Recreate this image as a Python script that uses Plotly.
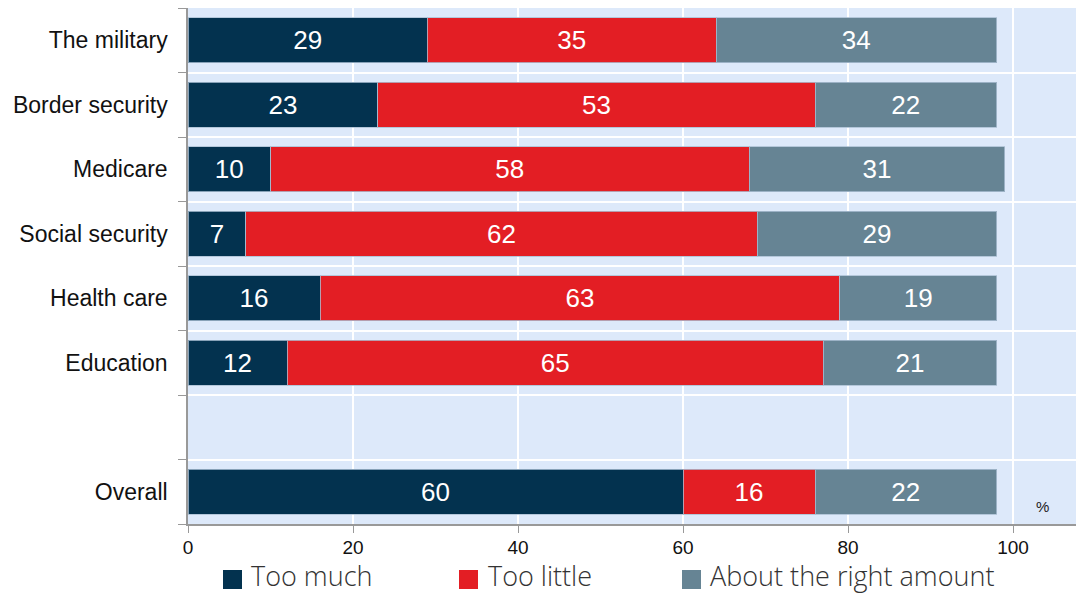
import plotly.graph_objects as go

categories = ["The military", "Border security", "Medicare", "Social security",
              "Health care", "Education", " ", "Overall"]
too_much = [29, 23, 10, 7, 16, 12, None, 60]
too_little = [35, 53, 58, 62, 63, 65, None, 16]
right_amount = [34, 22, 31, 29, 19, 21, None, 22]
series_names = ["Too much", "Too little", "About the right amount"]
colors = ["#03324f", "#e31e24", "#668494"]
x_ticks = [0, 20, 40, 60, 80, 100]

# page geometry (page has 8px body margin; figure is 1076x586)
PLOT_L, PLOT_R, PLOT_T, PLOT_B = 188, 1084, 8, 524


def px_x(p):
    return (p - PLOT_L) / (PLOT_R - PLOT_L)


def px_y(p):
    return (PLOT_B - p) / (PLOT_B - PLOT_T)


fig = go.Figure()
for name, vals, col in zip(series_names, [too_much, too_little, right_amount], colors):
    fig.add_trace(go.Bar(
        y=categories, x=vals, orientation="h", name=name,
        marker=dict(color=col, line=dict(color="rgba(170,190,210,0.8)", width=1)),
        text=[("" if v is None else str(v)) for v in vals],
        textposition="inside", insidetextanchor="middle",
        textfont=dict(color="white", size=26, family="Liberation Sans, Arial"),
        constraintext="none",
        width=0.7, showlegend=False, hoverinfo="skip",
    ))

# legend drawn as squares + text
legend_sq_left = [223, 459, 682]
legend_txt_left = [250, 487, 709]
for name, col, sx, tx in zip(series_names, colors, legend_sq_left, legend_txt_left):
    fig.add_shape(type="rect", xref="paper", yref="paper",
                  x0=px_x(sx), x1=px_x(sx + 19), y0=px_y(589), y1=px_y(570),
                  fillcolor=col, line=dict(width=0))
    fig.add_annotation(xref="paper", yref="paper", x=px_x(tx), y=px_y(575.5),
                       xanchor="left", yanchor="middle", text=name, showarrow=False,
                       borderpad=0,
                       font=dict(size=27, family="Open Sans", color="#333333", weight=300))

fig.update_layout(
    barmode="stack",
    width=1076, height=586,
    margin=dict(l=180, r=0, t=0, b=70),
    paper_bgcolor="white",
    plot_bgcolor="#dde9fa",
    font=dict(family="Liberation Sans, Arial", color="#111111"),
    showlegend=False,
    xaxis=dict(range=[0, 108.6], tickvals=x_ticks, showgrid=True, gridcolor="white",
               gridwidth=1.5, zeroline=False, showline=True, linecolor="#999999",
               linewidth=1.5, ticks="outside", ticklen=7, tickcolor="#999999",
               tickfont=dict(size=19, color="#111111"), ticklabelstandoff=-2,
               fixedrange=True),
    yaxis=dict(categoryorder="array", categoryarray=categories[::-1], type="category",
               tickson="boundaries", showgrid=True, gridcolor="white", gridwidth=2,
               showline=True, linecolor="#999999", linewidth=1.5,
               ticks="outside", ticklen=8, tickcolor="#999999",
               tickfont=dict(size=23, color="#111111"), ticklabelstandoff=14,
               fixedrange=True),
    bargap=0.3,
)
fig.add_annotation(x=103.6, xref="x", y=0.033, yref="y domain", yanchor="middle",
                   text="%", showarrow=False, font=dict(size=15, color="#222222"))

fig.write_html("out.html")
